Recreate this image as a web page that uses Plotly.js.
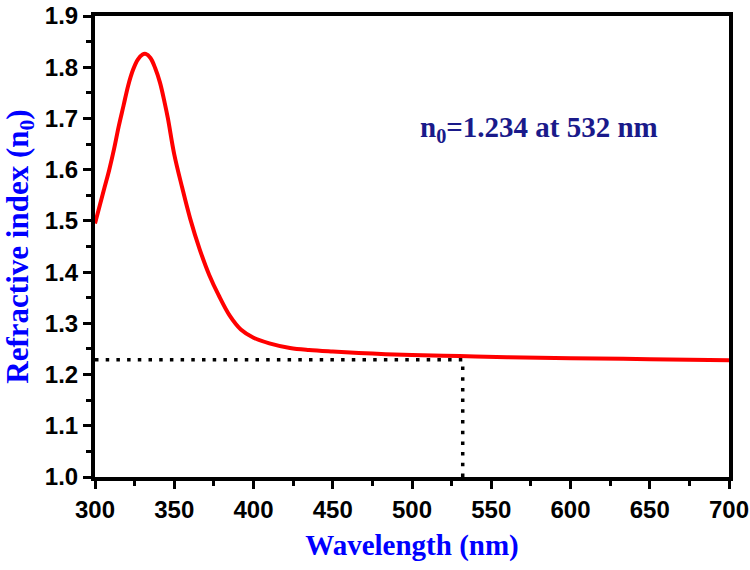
<!DOCTYPE html>
<html>
<head>
<meta charset="utf-8">
<script src="https://cdn.plot.ly/plotly-3.0.1.min.js"></script>
<style>html,body{margin:0;padding:0;background:#fff;}#chart{width:750px;height:570px;}</style>
</head>
<body>
<div id="chart"></div>
<script>
var wavelength = [300,303,306,309,312,315,318,321,324,327,330,332,335,338,341,344,346,350,355,360,366,372,378,385,392,400,410,423,435,450,475,500,530,560,600,650,700];
var refractiveIndex = [1.495,1.53,1.565,1.60,1.64,1.685,1.725,1.765,1.795,1.815,1.825,1.826,1.818,1.798,1.77,1.73,1.70,1.63,1.565,1.505,1.445,1.395,1.355,1.315,1.288,1.272,1.261,1.252,1.248,1.245,1.241,1.238,1.236,1.234,1.232,1.230,1.228];
var guideX = [300,532,532];
var guideY = [1.229,1.229,1.0];
var yTickVals = [1.0,1.1,1.2,1.3,1.4,1.5,1.6,1.7,1.8,1.9];
var yTickText = ['1.0','1.1','1.2','1.3','1.4','1.5','1.6','1.7','1.8','1.9'];
var yMinorVals = [1.05,1.15,1.25,1.35,1.45,1.55,1.65,1.75,1.85];
var xTickVals = [300,350,400,450,500,550,600,650,700];
var xMinorVals = [325,375,425,475,525,575,625,675];
var annotationText = 'n<sub>0</sub>=1.234 at 532 nm';

var traces = [
  {x: guideX, y: guideY, mode: 'lines', line: {color: '#000', width: 3.5, dash: '3.5px,7.2px'}, hoverinfo: 'skip'},
  {x: wavelength, y: refractiveIndex, mode: 'lines', line: {color: '#ff0000', width: 4, shape: 'spline', smoothing: 1}}
];

var axisCommon = {
  showline: true, linecolor: '#000', linewidth: 4, mirror: true,
  ticks: 'outside', ticklen: 8, tickwidth: 3, tickcolor: '#000',
  showgrid: false, zeroline: false, ticklabeloverflow: 'allow',
  tickfont: {family: 'Liberation Sans, Arial, sans-serif', size: 24, color: '#000', weight: 'bold'}
};

var layout = {
  width: 750, height: 570,
  margin: {l: 95, r: 21, t: 16, b: 93},
  showlegend: false,
  paper_bgcolor: '#fff', plot_bgcolor: '#fff',
  xaxis: Object.assign({}, axisCommon, {
    range: [300, 700], tickmode: 'array', tickvals: xTickVals,
    minor: {tickmode: 'array', tickvals: xMinorVals, ticks: 'outside', ticklen: 5, tickwidth: 3, tickcolor: '#000'},
    title: {text: 'Wavelength (nm)', font: {family: 'Liberation Serif, Times New Roman, serif', size: 29, color: '#0000ff', weight: 'bold'}, standoff: 14}
  }),
  yaxis: Object.assign({}, axisCommon, {
    range: [1.0, 1.9], tickmode: 'array', tickvals: yTickVals, ticktext: yTickText,
    minor: {tickmode: 'array', tickvals: yMinorVals, ticks: 'outside', ticklen: 5, tickwidth: 3, tickcolor: '#000'},
    title: {text: 'Refractive index (n<sub>0</sub>)', font: {family: 'Liberation Serif, Times New Roman, serif', size: 31, color: '#0000ff', weight: 'bold'}, standoff: 10}
  }),
  annotations: [{
    x: 580, y: 1.68, xref: 'x', yref: 'y', text: annotationText, showarrow: false,
    font: {family: 'Liberation Serif, Times New Roman, serif', size: 29, color: '#1a1a8a', weight: 'bold'}
  }]
};

Plotly.newPlot('chart', traces, layout, {staticPlot: true, displayModeBar: false});
</script>
</body>
</html>
